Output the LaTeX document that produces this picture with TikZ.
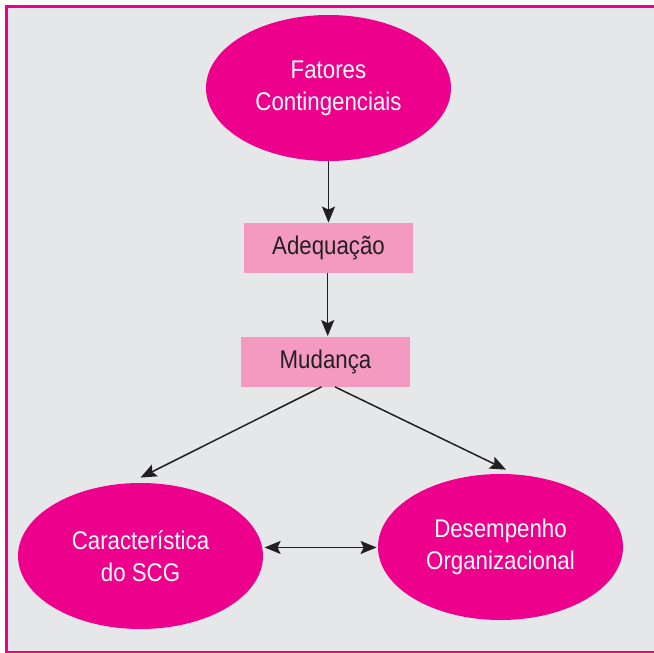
\documentclass[tikz,border=0pt]{standalone}
\usepackage{fontspec}
\setmainfont{Liberation Sans}[FakeStretch=0.87]
\usepackage{xcolor}
\usetikzlibrary{shapes.geometric,arrows.meta}

\definecolor{scgpink}{RGB}{236,0,140}
\definecolor{scgrose}{RGB}{244,154,193}
\definecolor{scggrey}{RGB}{230,231,232}
\definecolor{scgtext}{RGB}{35,31,32}

\begin{document}
\begin{tikzpicture}[x=0.5pt,y=-0.5pt,
        ponta/.tip={Stealth[length=8pt,width=6.5pt,inset=1.5pt]},
        bolha/.style={ellipse,fill=scgpink,text=white,minimum width=122.5pt,minimum height=73pt,
                inner sep=0pt,align=center,font=\fontsize{12.8}{16}\selectfont},
        caixa/.style={rectangle,fill=scgrose,text=scgtext,minimum width=84.5pt,minimum height=25pt,
                inner sep=0pt,font=\fontsize{12.8}{16}\selectfont},
        seta/.style={-ponta,line width=0.75pt,draw=scgtext},
        dupla/.style={seta,ponta-ponta}]
                \useasboundingbox (0,0) rectangle (654,653);
                \fill[white] (0,0) rectangle (654,653);
                \fill[scggrey] (6.5,6.5) rectangle (654,652);
                \draw[scgpink,line width=1.5pt] (654,6.5) -- (6.5,6.5) -- (6.5,653);
                \draw[scgpink,line width=0.75pt] (6.5,652) -- (654,652);

                \node[bolha] (fatores) at (328.5,88) {Fatores\\Contingenciais};
                \node[caixa] (adeq) at (328.5,248) {Adequação};
                \node[caixa] (mud) at (325.5,361.5) {Mudança};
                \node[bolha] (carac) at (140.5,556) {Característica\\do SCG};
                \node[bolha] (desemp) at (500.5,547) {Desempenho\\Organizacional};

                \draw[seta] (fatores.south) -- (adeq.north);
                \draw[seta] ([xshift=-0.4pt]adeq.south) -- ([xshift=-0.4pt]adeq.south |- mud.north);
                \draw[seta] ([xshift=-2pt]mud.south) -- ([yshift=2.5pt]carac.north);
                \draw[seta] ([xshift=4.75pt]mud.south) -- ([xshift=2.75pt,yshift=2pt]desemp.north);
                \draw[dupla] ([xshift=1pt]carac.4) -- ([xshift=-0.5pt]carac.4 -| desemp.west);
\end{tikzpicture}
\end{document}
